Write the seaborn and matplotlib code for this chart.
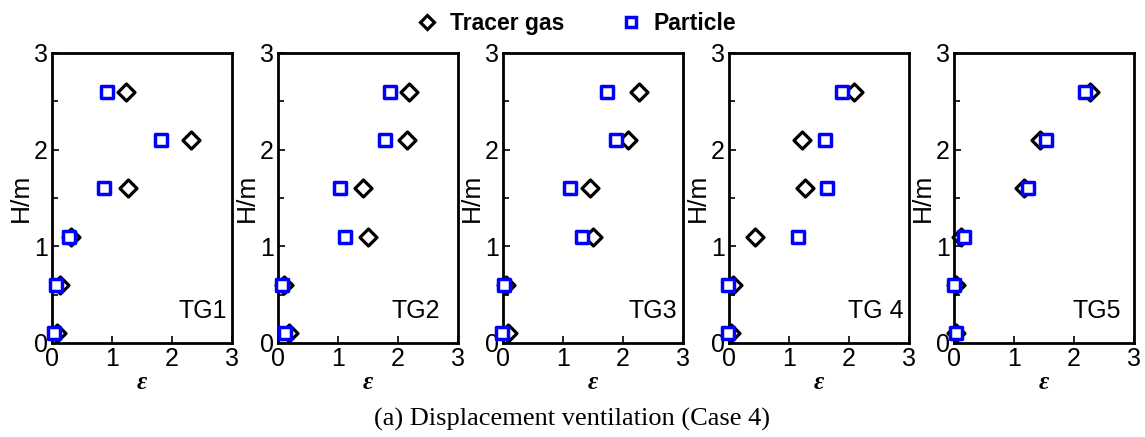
import numpy as np
import pandas as pd
import matplotlib
matplotlib.use("Agg")
import matplotlib.pyplot as plt
from matplotlib.ticker import MultipleLocator
from matplotlib.lines import Line2D
import seaborn as sns

# ---------------- data ----------------
panels = ["TG1", "TG2", "TG3", "TG 4", "TG5"]
heights = [0.1, 0.6, 1.1, 1.6, 2.1, 2.6]
tracer_tg1 = [0.09, 0.13, 0.32, 1.26, 2.32, 1.23]
particle_tg1 = [0.04, 0.07, 0.28, 0.87, 1.82, 0.92]
tracer_tg2 = [0.18, 0.10, 1.50, 1.42, 2.15, 2.19]
particle_tg2 = [0.12, 0.06, 1.11, 1.03, 1.78, 1.86]
tracer_tg3 = [0.08, 0.05, 1.50, 1.45, 2.08, 2.26]
particle_tg3 = [-0.02, 0.02, 1.32, 1.11, 1.88, 1.74]
tracer_tg4 = [0.03, 0.06, 0.44, 1.26, 1.22, 2.08]
particle_tg4 = [-0.01, -0.01, 1.15, 1.63, 1.60, 1.89]
tracer_tg5 = [0.03, 0.04, 0.12, 1.16, 1.43, 2.26]
particle_tg5 = [0.03, 0.00, 0.16, 1.24, 1.53, 2.19]
x_ticks = [0, 1, 2, 3]
y_ticks = [0, 1, 2, 3]
series_names = ["Tracer gas", "Particle"]
caption = "(a) Displacement ventilation (Case 4)"

tracers = [tracer_tg1, tracer_tg2, tracer_tg3, tracer_tg4, tracer_tg5]
particles = [particle_tg1, particle_tg2, particle_tg3, particle_tg4, particle_tg5]

# ---------------- style ----------------
sns.set_style("ticks")
plt.rcParams["font.family"] = ["Liberation Sans", "DejaVu Sans"]
for k in ["text.color", "axes.labelcolor", "xtick.color", "ytick.color", "axes.edgecolor"]:
    plt.rcParams[k] = "black"

fig = plt.figure(figsize=(11.45, 4.37), dpi=100)
W, H = 1145.0, 437.0
lefts = [52, 278, 503, 729, 954]
ax_w, top_px, bot_px = 180, 53, 343
label_x = [0.97, 0.90, 0.97, 0.97, 0.93]

for i, name in enumerate(panels):
    ax = fig.add_axes([lefts[i] / W, (H - bot_px) / H, ax_w / W, (bot_px - top_px) / H])
    df_t = pd.DataFrame({"eps": tracers[i], "h": heights})
    df_p = pd.DataFrame({"eps": particles[i], "h": heights})
    sns.scatterplot(data=df_t, x="eps", y="h", ax=ax, marker="D", s=75,
                    color="black", facecolor="white", edgecolor="black",
                    linewidth=2.3, clip_on=False, zorder=3)
    sns.scatterplot(data=df_p, x="eps", y="h", ax=ax, marker="s", s=70,
                    color="#0000ff", facecolor="white", edgecolor="#0000ff",
                    linewidth=2.5, clip_on=False, zorder=4)
    ax.set_xlim(0, 3)
    ax.set_ylim(0, 3)
    ax.set_xticks(x_ticks)
    ax.set_yticks(y_ticks)
    ax.yaxis.set_minor_locator(MultipleLocator(0.5))
    ax.tick_params(axis="both", which="both", direction="in", labelsize=18,
                   width=1.2, color="black", labelcolor="black")
    ax.tick_params(axis="both", which="major", length=5, pad=3)
    ax.tick_params(axis="y", which="minor", length=4)
    for sp in ax.spines.values():
        sp.set_linewidth(2.0)
        sp.set_color("black")
    ax.set_xlabel("ε", fontsize=18, fontweight="bold", fontstyle="italic",
                  family=["Liberation Serif", "DejaVu Serif"], labelpad=0)
    ax.set_ylabel("H/m", fontsize=19, labelpad=1)
    ax.text(label_x[i], 0.07, name, transform=ax.transAxes, ha="right",
            va="bottom", fontsize=18)

handles = [
    Line2D([], [], ls="none", marker="D", ms=7.5, mfc="white", mec="black", mew=2.3),
    Line2D([], [], ls="none", marker="s", ms=6.5, mfc="white", mec="#0000ff", mew=2.5),
]
fig.legend(handles, series_names, loc="upper center", bbox_to_anchor=(0.503, 1.02),
           ncol=2, frameon=False, prop={"weight": "bold", "size": 16.5},
           handletextpad=0.5, columnspacing=2.4, handlelength=1.0)

fig.text(0.5, 0.04, caption, ha="center", va="center", fontsize=19,
         family=["Liberation Serif", "DejaVu Serif"])

fig.savefig("out.png", dpi=100)
